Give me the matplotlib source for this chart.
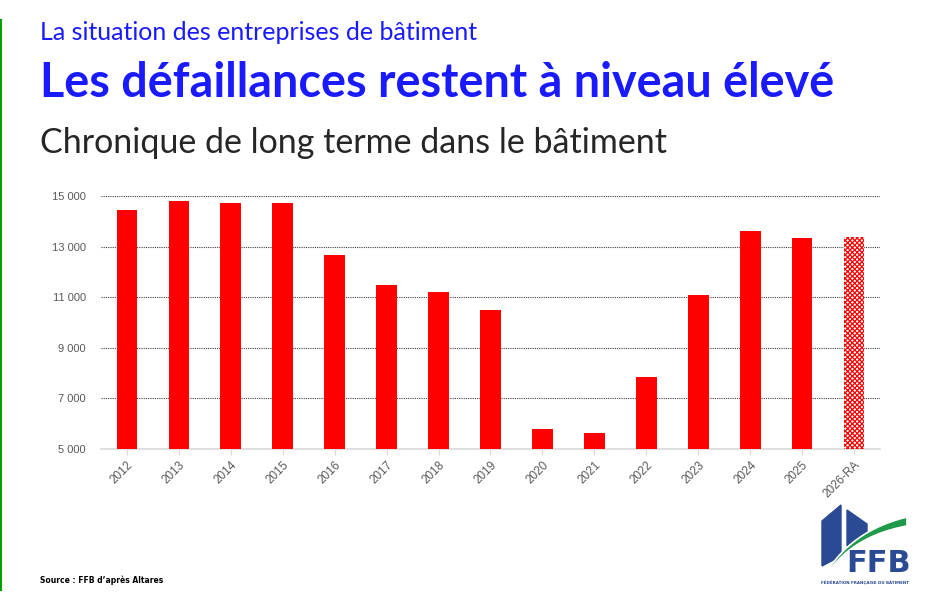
import matplotlib.pyplot as plt
import matplotlib.patches as mpatches
import numpy as np

years = ['2012', '2013', '2014', '2015', '2016', '2017', '2018', '2019',
         '2020', '2021', '2022', '2023', '2024', '2025', '2026-RA']
defaillances = [14450, 14800, 14730, 14730, 12680, 11490, 11210, 10500,
                5790, 5630, 7850, 11090, 13630, 13350, 13390]
y_ticks = [5000, 7000, 9000, 11000, 13000, 15000]
y_labels = ['5 000', '7 000', '9 000', '11 000', '13 000', '15 000']

blue = '#1a1aff'
red = '#ff0000'
plt.rcParams['hatch.linewidth'] = 0.9

fig = plt.figure(figsize=(9.37, 6.10), dpi=100)
ax = fig.add_axes([101/937, 1-449/610, 779/937, (449-196.3)/610])

x = np.arange(len(years))
ax.bar(x[:-1], defaillances[:-1], width=0.4, color=red, zorder=3)
# projection: hatched bar
ax.bar(x[-1], defaillances[-1], width=0.4, facecolor='white', edgecolor=red,
       hatch='xxxxxxx', linewidth=0, zorder=3)

ax.set_xlim(-0.5, len(years) - 0.5)
ax.set_ylim(5000, 15000)
ax.set_yticks(y_ticks)
ax.set_yticklabels(y_labels, fontfamily='Liberation Sans', fontsize=8, color='#595959')
ax.set_xticks(x)
ax.set_xticklabels(years, rotation=45, ha='right', rotation_mode='anchor',
                   fontfamily='Liberation Sans', fontsize=8.5, color='#595959')
ax.tick_params(axis='y', length=0, pad=11)
ax.tick_params(axis='x', length=4, color='#d9d9d9', pad=3)
ax.yaxis.grid(True, linestyle=(0, (1, 1)), color='#404040', linewidth=0.8, zorder=0)
for s in ['top', 'right', 'left']:
    ax.spines[s].set_visible(False)
ax.spines['bottom'].set_color('#d9d9d9')
ax.spines['bottom'].set_linewidth(1.2)

# titles
fig.text(40/937, 1-32/610, 'La situation des entreprises de bâtiment', color=blue,
         fontfamily='Lato', fontsize=18, va='center', ha='left')
fig.text(40/937, 1-83/610, 'Les défaillances restent à niveau élevé', color=blue,
         fontfamily='Lato', fontweight='bold', fontsize=33.7, va='center', ha='left')
fig.text(40/937, 1-143/610, 'Chronique de long terme dans le bâtiment', color='#262626',
         fontfamily='Lato', fontsize=24.5, va='center', ha='left')
fig.text(40/937, 1-580/610, 'Source : FFB d\u2019après Altares', color='black',
         fontfamily='Liberation Sans Narrow', fontweight='bold', fontsize=5.5,
         va='center', ha='left')

# green line at left edge
fig.add_artist(plt.Line2D([1/937, 1/937], [1-20/610, 1-590/610], color='#00a000',
                          linewidth=1.5, transform=fig.transFigure))

# FFB logo (rough drawing)
def fpt(px, py):
    return (px/937, 1-py/610)

logo_blue = '#2a4a94'
logo_green = '#1f9a4a'
left_block = [fpt(822, 521), fpt(841, 505), fpt(841, 556), fpt(822, 566)]
right_block = [fpt(847, 510), fpt(867, 524), fpt(867, 535), fpt(847, 546)]
for pts in (left_block, right_block):
    fig.add_artist(mpatches.Polygon(pts, closed=True, color=logo_blue,
                                    transform=fig.transFigure))
t = np.linspace(0, 1, 50)
p0, p1, p2 = np.array([818, 590]), np.array([842, 538]), np.array([907, 526])
curve = ((1-t)**2)[:, None]*p0 + (2*(1-t)*t)[:, None]*p1 + (t**2)[:, None]*p2
thick = 1 + 8*t
upper = [fpt(a, b - w) for (a, b), w in zip(curve, thick)]
lower = [fpt(a, b) for a, b in curve[::-1]]
fig.add_artist(mpatches.Polygon(upper + lower, closed=True, facecolor=logo_green,
                                edgecolor='white', linewidth=1.2,
                                transform=fig.transFigure))
fig.text(879/937, 1-564/610, 'FFB', color=logo_blue, fontfamily='Liberation Sans Narrow',
         fontweight='bold', fontsize=22, ha='center', va='center')
fig.text(865/937, 1-583/610, 'FÉDÉRATION FRANÇAISE DU BÂTIMENT', color=logo_blue,
         fontfamily='Liberation Sans Narrow', fontweight='bold', fontsize=2.9,
         ha='center', va='center')

fig.savefig('out.png', dpi=100)
